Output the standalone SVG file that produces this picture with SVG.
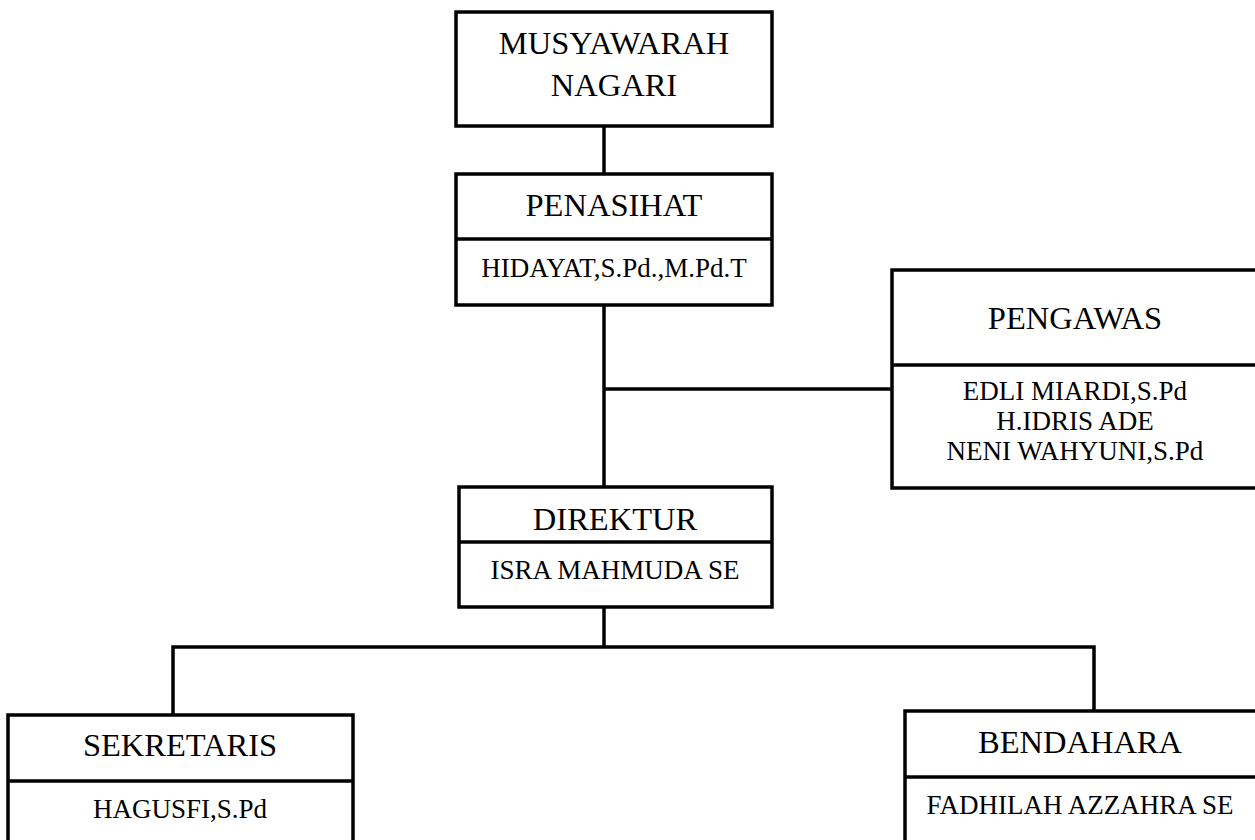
<svg xmlns="http://www.w3.org/2000/svg" width="1255" height="840" viewBox="0 0 1255 840">
<style>
.box{fill:#fff;stroke:#000;stroke-width:3.5}
.div{stroke:#000;stroke-width:3.5}
.con{stroke:#000;stroke-width:3.5;fill:none}
.t{font-family:"Liberation Serif","Times New Roman",serif;font-size:32.5px;fill:#000;text-anchor:middle}
.n{font-family:"Liberation Serif","Times New Roman",serif;font-size:27px;fill:#000;text-anchor:middle}
</style>
<rect width="1255" height="840" fill="#fff"/>
<g id="connectors">
<line class="con" x1="604" y1="126" x2="604" y2="174"/>
<line class="con" x1="604" y1="305" x2="604" y2="487"/>
<line class="con" x1="604" y1="389" x2="892" y2="389"/>
<line class="con" x1="604" y1="607" x2="604" y2="647"/>
<polyline class="con" points="173,715 173,647 1094,647 1094,711"/>
</g>
<g id="musyawarah">
<rect class="box" x="456" y="12" width="316" height="114"/>
<text class="t" x="614" y="54">MUSYAWARAH</text>
<text class="t" x="614" y="96">NAGARI</text>
</g>
<g id="penasihat">
<rect class="box" x="456" y="174" width="316" height="131"/>
<line class="div" x1="456" y1="239" x2="772" y2="239"/>
<text class="t" x="614" y="216">PENASIHAT</text>
<text class="n" x="614" y="277">HIDAYAT,S.Pd.,M.Pd.T</text>
</g>
<g id="pengawas">
<rect class="box" x="892" y="270" width="366" height="218"/>
<line class="div" x1="892" y1="365" x2="1258" y2="365"/>
<text class="t" x="1075" y="329">PENGAWAS</text>
<text class="n" x="1075" y="400">EDLI MIARDI,S.Pd</text>
<text class="n" x="1075" y="430">H.IDRIS ADE</text>
<text class="n" x="1075" y="460">NENI WAHYUNI,S.Pd</text>
</g>
<g id="direktur">
<rect class="box" x="459" y="487" width="313" height="120"/>
<line class="div" x1="459" y1="542" x2="772" y2="542"/>
<text class="t" x="615" y="530">DIREKTUR</text>
<text class="n" x="615" y="579">ISRA MAHMUDA SE</text>
</g>
<g id="sekretaris">
<rect class="box" x="8" y="715" width="345" height="140"/>
<line class="div" x1="8" y1="781" x2="353" y2="781"/>
<text class="t" x="180" y="756">SEKRETARIS</text>
<text class="n" x="180" y="818">HAGUSFI,S.Pd</text>
</g>
<g id="bendahara">
<rect class="box" x="905" y="711" width="353" height="145"/>
<line class="div" x1="905" y1="777" x2="1258" y2="777"/>
<text class="t" x="1080" y="753">BENDAHARA</text>
<text class="n" x="1080" y="814">FADHILAH AZZAHRA SE</text>
</g>
</svg>
